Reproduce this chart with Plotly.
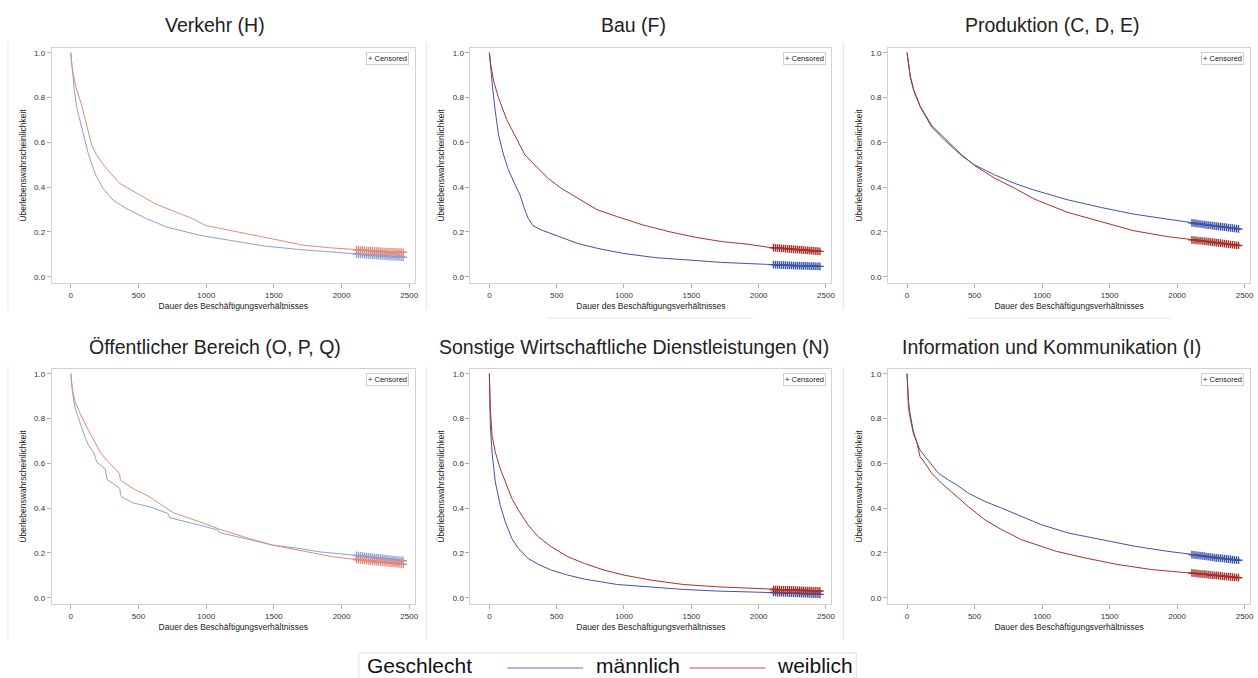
import numpy as np
import plotly.graph_objects as go

# ---------------- data ----------------
TITLES = ["Verkehr (H)", "Bau (F)", "Produktion (C, D, E)",
          "Öffentlicher Bereich (O, P, Q)",
          "Sonstige Wirtschaftliche Dienstleistungen (N)",
          "Information und Kommunikation (I)"]

X_TICKS = [0, 500, 1000, 1500, 2000, 2500]
Y_TICKS = [0.0, 0.2, 0.4, 0.6, 0.8, 1.0]

# Verkehr (H)
T_VER_M = [0, 10, 25, 44, 70, 93, 129, 166, 190, 239, 312, 409, 556, 702, 945, 1189, 1433, 1676, 1920, 2066, 2200, 2330, 2460]
S_VER_M = [1.0, 0.93, 0.84, 0.755, 0.69, 0.64, 0.55, 0.484, 0.446, 0.394, 0.342, 0.305, 0.26, 0.223, 0.186, 0.161, 0.137, 0.122, 0.112, 0.104, 0.097, 0.091, 0.087]
T_VER_W = [0, 10, 39, 80, 120, 154, 190, 263, 360, 495, 629, 800, 897, 994, 1189, 1384, 1555, 1725, 1920, 2066, 2200, 2330, 2460]
S_VER_W = [1.0, 0.93, 0.845, 0.766, 0.67, 0.588, 0.543, 0.484, 0.417, 0.369, 0.324, 0.283, 0.26, 0.229, 0.205, 0.179, 0.161, 0.14, 0.129, 0.122, 0.117, 0.112, 0.109]

# Bau (F)
T_BAU_M = [0, 10, 24, 44, 68, 105, 141, 190, 227, 263, 288, 324, 385, 507, 653, 800, 994, 1238, 1482, 1725, 2066, 2250, 2460]
S_BAU_M = [1.0, 0.92, 0.843, 0.739, 0.634, 0.545, 0.478, 0.412, 0.366, 0.299, 0.261, 0.228, 0.209, 0.182, 0.149, 0.127, 0.104, 0.085, 0.073, 0.064, 0.055, 0.05, 0.046]
T_BAU_W = [0, 12, 32, 68, 129, 190, 263, 336, 434, 531, 653, 800, 946, 1141, 1336, 1530, 1725, 1920, 2079, 2250, 2460]
S_BAU_W = [1.0, 0.94, 0.873, 0.799, 0.701, 0.627, 0.545, 0.5, 0.44, 0.396, 0.351, 0.299, 0.269, 0.231, 0.201, 0.176, 0.157, 0.145, 0.131, 0.123, 0.113]

# Produktion (C, D, E)
T_PRO_M = [0, 10, 24, 49, 98, 183, 281, 403, 501, 648, 794, 941, 1185, 1430, 1674, 1918, 2077, 2250, 2460]
S_PRO_M = [1.0, 0.95, 0.891, 0.832, 0.757, 0.668, 0.608, 0.541, 0.499, 0.455, 0.417, 0.387, 0.344, 0.31, 0.28, 0.258, 0.243, 0.229, 0.213]
T_PRO_W = [0, 10, 24, 49, 98, 183, 281, 403, 501, 648, 794, 941, 1185, 1430, 1674, 1918, 2077, 2250, 2460]
S_PRO_W = [1.0, 0.95, 0.894, 0.835, 0.76, 0.675, 0.616, 0.545, 0.496, 0.44, 0.396, 0.347, 0.288, 0.246, 0.206, 0.18, 0.167, 0.155, 0.139]

# Öffentlicher Bereich (O, P, Q)
T_OEF_M = [0, 12, 32, 56, 81, 105, 130, 167, 180, 191, 252, 262, 270, 314, 363, 367, 375, 461, 583, 718, 730, 951, 1086, 1098, 1319, 1490, 1686, 1833, 2091, 2270, 2460]
S_OEF_M = [1.0, 0.92, 0.844, 0.8, 0.755, 0.718, 0.681, 0.651, 0.63, 0.606, 0.577, 0.55, 0.525, 0.51, 0.487, 0.46, 0.45, 0.423, 0.406, 0.376, 0.357, 0.324, 0.302, 0.291, 0.26, 0.235, 0.22, 0.205, 0.19, 0.178, 0.165]
T_OEF_W = [0, 12, 32, 69, 118, 179, 216, 265, 314, 360, 366, 461, 583, 706, 755, 951, 1098, 1319, 1490, 1686, 1931, 2091, 2270, 2460]
S_OEF_W = [1.0, 0.93, 0.874, 0.822, 0.762, 0.695, 0.651, 0.614, 0.584, 0.554, 0.525, 0.487, 0.45, 0.401, 0.38, 0.339, 0.306, 0.264, 0.235, 0.212, 0.183, 0.172, 0.16, 0.149]

# Sonstige Wirtschaftliche Dienstleistungen (N)
T_SON_M = [0, 3, 7, 20, 44, 81, 118, 167, 216, 289, 363, 461, 583, 706, 951, 1196, 1441, 1686, 2091, 2270, 2460]
S_SON_M = [1.0, 0.88, 0.77, 0.65, 0.517, 0.413, 0.339, 0.264, 0.22, 0.175, 0.149, 0.123, 0.101, 0.083, 0.059, 0.048, 0.037, 0.03, 0.024, 0.02, 0.015]
T_SON_W = [0, 3, 7, 20, 44, 81, 118, 167, 216, 289, 363, 461, 583, 706, 853, 1000, 1196, 1441, 1686, 1931, 2091, 2270, 2460]
S_SON_W = [1.0, 0.92, 0.844, 0.725, 0.65, 0.576, 0.517, 0.443, 0.391, 0.324, 0.272, 0.227, 0.183, 0.153, 0.123, 0.101, 0.079, 0.059, 0.049, 0.042, 0.037, 0.034, 0.03]

# Information und Kommunikation (I)
T_INF_M = [0, 4, 10, 22, 47, 71, 96, 133, 182, 232, 305, 367, 453, 576, 700, 847, 995, 1192, 1438, 1685, 1931, 2103, 2280, 2460]
S_INF_M = [1.0, 0.93, 0.881, 0.822, 0.741, 0.696, 0.659, 0.63, 0.593, 0.556, 0.526, 0.504, 0.467, 0.43, 0.4, 0.363, 0.326, 0.289, 0.259, 0.23, 0.207, 0.193, 0.179, 0.167]
T_INF_W = [0, 4, 10, 22, 47, 71, 84, 96, 133, 182, 256, 355, 453, 576, 700, 847, 995, 1106, 1315, 1562, 1808, 2103, 2280, 2460]
S_INF_W = [1.0, 0.91, 0.852, 0.807, 0.733, 0.696, 0.667, 0.63, 0.6, 0.556, 0.511, 0.459, 0.407, 0.348, 0.304, 0.259, 0.23, 0.207, 0.178, 0.148, 0.126, 0.111, 0.1, 0.089]

CENSOR_TIMES = [2110, 2125, 2140, 2155, 2170, 2185, 2200, 2215, 2230, 2245, 2260, 2275,
                2290, 2305, 2320, 2335, 2350, 2365, 2380, 2395, 2410, 2425, 2440, 2455]

GROUPS = ["männlich", "weiblich"]

# ---------------- styling ----------------
LIGHT = ("#8C9FD6", "#E08A7B")
DARK = ("#3D55A6", "#A5332B")
FONT = "Liberation Sans, Arial, sans-serif"

W, H = 1258, 678
COL_X = [(52, 416), (472, 834), (891, 1254)]
ROW_Y = [(48, 283), (369, 604)]
TITLE_CX = [216, 636, 1055]
TITLE_CY = [25, 347]

panels = [
    (T_VER_M, S_VER_M, T_VER_W, S_VER_W, LIGHT),
    (T_BAU_M, S_BAU_M, T_BAU_W, S_BAU_W, DARK),
    (T_PRO_M, S_PRO_M, T_PRO_W, S_PRO_W, DARK),
    (T_OEF_M, S_OEF_M, T_OEF_W, S_OEF_W, LIGHT),
    (T_SON_M, S_SON_M, T_SON_W, S_SON_W, DARK),
    (T_INF_M, S_INF_M, T_INF_W, S_INF_W, DARK),
]

fig = go.Figure()
annotations = []
shapes = []
layout_axes = {}

for i, (tm, sm, tw, sw, cols) in enumerate(panels):
    r, c = divmod(i, 3)
    n = i + 1
    xa = "x" if n == 1 else f"x{n}"
    ya = "y" if n == 1 else f"y{n}"
    x0, x1 = COL_X[c]
    y0, y1 = ROW_Y[r]
    for (t, s, col) in ((tm, sm, cols[0]), (tw, sw, cols[1])):
        fig.add_trace(go.Scatter(x=t, y=s, mode="lines", xaxis=xa, yaxis=ya,
                                 line=dict(color=col, width=1.0), showlegend=False,
                                 hoverinfo="skip"))
        cy = np.interp(CENSOR_TIMES, t, s)
        fig.add_trace(go.Scatter(x=CENSOR_TIMES, y=cy, mode="markers", xaxis=xa, yaxis=ya,
                                 marker=dict(symbol="cross-thin", size=5.5,
                                             line=dict(color=col, width=1.4)),
                                 showlegend=False, hoverinfo="skip"))
    common = dict(showline=True, linecolor="#d2d2d2", linewidth=1, mirror=True,
                  showgrid=False, zeroline=False, ticks="outside", ticklen=4,
                  tickcolor="#b0b0b0", tickfont=dict(size=8, color="#333333", family=FONT))
    layout_axes["xaxis" if n == 1 else f"xaxis{n}"] = dict(
        domain=[x0 / W, x1 / W], anchor=ya, range=[-140, 2540], tickvals=X_TICKS,
        title=dict(text="Dauer des Beschäftigungsverhältnisses", standoff=4,
                   font=dict(size=8.5, color="#222222", family=FONT)), **common)
    layout_axes["yaxis" if n == 1 else f"yaxis{n}"] = dict(
        domain=[1 - y1 / H, 1 - y0 / H], anchor=xa, range=[-0.028, 1.021],
        tickvals=Y_TICKS, tickformat=".1f",
        title=dict(text="Überlebenswahrscheinlichkeit", standoff=6,
                   font=dict(size=8.5, color="#222222", family=FONT)), **common)
    # panel title
    annotations.append(dict(text=TITLES[i], x=TITLE_CX[c] / W, y=1 - TITLE_CY[r] / H,
                            xref="paper", yref="paper", showarrow=False,
                            xanchor="center", yanchor="middle",
                            font=dict(size=19.5, color="#222222", family=FONT)))
    # censored legend box
    annotations.append(dict(text="+ Censored", x=0.984, y=0.984,
                            xref=f"{xa} domain", yref=f"{ya} domain", showarrow=False,
                            xanchor="right", yanchor="top", bgcolor="white",
                            bordercolor="#cfcfcf", borderwidth=1, borderpad=1,
                            font=dict(size=7.5, color="#222222", family=FONT)))
    # faint panel separator line
    sx = [8, 428, 846][c]
    sy = [(42, 310), (367, 640)][r]
    shapes.append(dict(type="line", xref="paper", yref="paper",
                       x0=sx / W, x1=sx / W, y0=1 - sy[0] / H, y1=1 - sy[1] / H,
                       line=dict(color="#e4e4e4", width=1)))

# faint horizontal fragments between rows
for (a, b) in ((550, 755), (970, 1175)):
    shapes.append(dict(type="line", xref="paper", yref="paper", x0=a / W, x1=b / W,
                       y0=1 - 318 / H, y1=1 - 318 / H, line=dict(color="#e4e4e4", width=1)))

# bottom legend (Geschlecht)
LEG_Y = 668
shapes.append(dict(type="rect", xref="paper", yref="paper", x0=360 / W, x1=859 / W,
                   y0=1 - 653 / H, y1=-0.01, line=dict(color="#dcdcdc", width=1)))
annotations.append(dict(text="Geschlecht", x=367 / W, y=0, xref="paper",
                        yref="paper", showarrow=False, xanchor="left", yanchor="bottom",
                        borderpad=0,
                        font=dict(size=21, color="#111111", family=FONT)))
for (lx0, lx1, tx, col, name) in ((509, 585, 597, LIGHT[0], GROUPS[0]),
                                  (692, 768, 778, LIGHT[1], GROUPS[1])):
    shapes.append(dict(type="line", xref="paper", yref="paper", x0=lx0 / W, x1=lx1 / W,
                       y0=1 - LEG_Y / H, y1=1 - LEG_Y / H, line=dict(color=col, width=1.5)))
    annotations.append(dict(text=name, x=tx / W, y=0, xref="paper",
                            yref="paper", showarrow=False, xanchor="left", yanchor="bottom",
                            borderpad=0,
                            font=dict(size=21, color="#111111", family=FONT)))

fig.update_layout(width=W, height=H, margin=dict(l=0, r=0, t=0, b=0),
                  paper_bgcolor="white", plot_bgcolor="white",
                  annotations=annotations, shapes=shapes, **layout_axes)

fig.write_html("out.html", config={"displayModeBar": False},
               post_script="document.body.style.margin='0';document.body.style.overflow='hidden';")
